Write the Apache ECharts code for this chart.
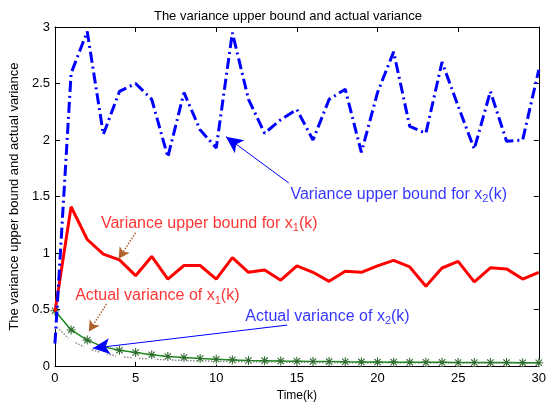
<!DOCTYPE html>
<html>
<head>
<meta charset="utf-8">
<script src="https://cdn.jsdelivr.net/npm/echarts@6/dist/echarts.min.js"></script>
<style>
  html, body { margin: 0; padding: 0; background: #fff; }
  #chart { width: 549px; height: 407px; }
</style>
</head>
<body>
<div id="chart"></div>
<script>
// time steps k
var timeSteps = [0,1,2,3,4,5,6,7,8,9,10,11,12,13,14,15,16,17,18,19,20,21,22,23,24,25,26,27,28,29,30];
// variance upper bound for x2(k)
var upperX2 = [0.2, 2.59, 2.96, 2.05, 2.43, 2.5, 2.36, 1.85, 2.42, 2.09, 1.93, 2.95, 2.36, 2.06, 2.18, 2.27,
  2.0, 2.36, 2.45, 1.89, 2.42, 2.78, 2.12, 2.06, 2.69, 2.3, 1.92, 2.43, 1.99, 2.0, 2.62];
// variance upper bound for x1(k)
var upperX1 = [0.48, 1.41, 1.12, 0.99, 0.94, 0.80, 0.97, 0.77, 0.89, 0.89, 0.77, 0.96, 0.83, 0.85, 0.76, 0.886,
  0.83, 0.75, 0.84, 0.83, 0.886, 0.935, 0.877, 0.706, 0.868, 0.926, 0.745, 0.87, 0.86, 0.77, 0.83];
// actual variance of x2(k)
var actualX2 = [0.49, 0.32, 0.23, 0.17, 0.14, 0.12, 0.10, 0.085, 0.075, 0.067, 0.06, 0.055, 0.05, 0.048, 0.045, 0.043,
  0.041, 0.04, 0.038, 0.037, 0.036, 0.035, 0.034, 0.033, 0.033, 0.032, 0.032, 0.031, 0.031, 0.03, 0.03];
// actual variance of x1(k)
var actualX1 = [0.36, 0.226, 0.158, 0.114, 0.085, 0.07, 0.062, 0.055, 0.05, 0.046, 0.043, 0.04, 0.038, 0.036, 0.035, 0.034,
  0.033, 0.032, 0.031, 0.03, 0.03, 0.029, 0.029, 0.028, 0.028, 0.028, 0.027, 0.027, 0.027, 0.027, 0.027];

// annotation texts (anchor in data coords: [k, value])
var noteTexts = [
  {pos: [14.6, 1.52], head: 'Variance upper bound for x', sub: '2', tail: '(k)', color: '#0000ff'},
  {pos: [2.85, 1.26], head: 'Variance upper bound for x', sub: '1', tail: '(k)', color: '#ff0000'},
  {pos: [1.25, 0.62], head: 'Actual variance of x', sub: '1', tail: '(k)', color: '#ff0000'},
  {pos: [11.8, 0.44], head: 'Actual variance of x', sub: '2', tail: '(k)', color: '#0000ff'}
];
// annotation arrows: from, to
var noteArrows = [
  {from: [14.5, 1.62], to: [10.6, 2.03], color: '#0000ff', type: 'solid', size: [12, 17]},
  {from: [5.0, 1.18], to: [3.95, 0.95], color: '#b0602a', type: 'dotted', size: [9, 11]},
  {from: [3.2, 0.55], to: [2.1, 0.305], color: '#b0602a', type: 'dotted', size: [9, 11]},
  {from: [14.4, 0.363], to: [2.35, 0.158], color: '#0000ff', type: 'solid', size: [12, 17]}
];

function pairs(vals) {
  var res = [];
  for (var i = 0; i < vals.length; i++) res.push([timeSteps[i], vals[i]]);
  return res;
}

var asterisk = 'path://M-0.12,-1L0.12,-1L0.12,1L-0.12,1Z M-1,-0.12L1,-0.12L1,0.12L-1,0.12Z ' +
  'M-0.79,-0.62L-0.62,-0.79L0.79,0.62L0.62,0.79Z M0.62,-0.79L0.79,-0.62L-0.62,0.79L-0.79,0.62Z';

var font = 'Liberation Sans, Arial, sans-serif';

function axisX(pos, labels) {
  return {
    type: 'value', position: pos, min: 0, max: 30, interval: 5,
    axisLine: {show: true, onZero: false, lineStyle: {color: '#000', width: 1}},
    axisTick: {show: true, inside: true, length: 5, lineStyle: {color: '#000'}},
    axisLabel: {show: labels, color: '#000', fontSize: 13, fontFamily: font, margin: 6},
    splitLine: {show: false}
  };
}
function axisY(pos, labels) {
  return {
    type: 'value', position: pos, min: 0, max: 3, interval: 0.5,
    axisLine: {show: true, onZero: false, lineStyle: {color: '#000', width: 1}},
    axisTick: {show: true, inside: true, length: 5, lineStyle: {color: '#000'}},
    axisLabel: {show: labels, color: '#000', fontSize: 13, fontFamily: font, margin: 5},
    splitLine: {show: false}
  };
}

var xMain = axisX('bottom', true);
xMain.name = 'Time(k)';
xMain.nameLocation = 'middle';
xMain.nameGap = 22;
xMain.nameTextStyle = {color: '#000', fontSize: 12, fontFamily: font};
var yMain = axisY('left', true);
yMain.name = 'The variance upper bound and actual variance';
yMain.nameLocation = 'middle';
yMain.nameGap = 31;
yMain.nameTextStyle = {color: '#000', fontSize: 13, fontFamily: font};

var noteData = noteTexts.map(function (n) {
  return {
    value: n.pos,
    label: {
      show: true, position: [0, 0], align: 'left', verticalAlign: 'middle',
      formatter: '{n|' + n.head + '}{s|' + n.sub + '}{n|' + n.tail + '}',
      rich: {
        n: {fontSize: 16, fontFamily: font, color: n.color},
        s: {fontSize: 11, fontFamily: font, color: n.color, padding: [9, 0, 0, 0]}
      }
    }
  };
});

var arrowData = noteArrows.map(function (a) {
  return [
    {coord: a.from, symbol: 'none', lineStyle: {color: a.color, type: a.type, width: a.type === 'dotted' ? 1.5 : 1}},
    {coord: a.to, symbol: 'arrow', symbolSize: a.size, itemStyle: {color: a.color}}
  ];
});

var option = {
  animation: false,
  backgroundColor: '#fff',
  title: {
    text: 'The variance upper bound and actual variance',
    left: 283, top: 5, textAlign: 'center',
    textStyle: {color: '#000', fontSize: 13, fontWeight: 'normal', fontFamily: font}
  },
  grid: {left: 49, right: 5, top: 27, bottom: 39},
  xAxis: [xMain, axisX('top', false)],
  yAxis: [yMain, axisY('right', false)],
  series: [
    {
      name: 'actual x1', type: 'line', data: pairs(actualX1), z: 2,
      symbol: 'emptyCircle', symbolSize: 5, showAllSymbol: true,
      lineStyle: {color: '#8a8a8a', width: 1.5, type: 'dotted'},
      itemStyle: {color: '#fff', borderColor: '#555', borderWidth: 1.5}
    },
    {
      name: 'actual x2', type: 'line', data: pairs(actualX2), z: 3,
      symbol: asterisk, symbolSize: 9, showAllSymbol: true,
      lineStyle: {color: '#1e8c1e', width: 1.5},
      itemStyle: {color: '#2f6a2f'}
    },
    {
      name: 'upper x1', type: 'line', data: pairs(upperX1), z: 4, symbol: 'none',
      lineStyle: {color: '#ff0000', width: 3}
    },
    {
      name: 'upper x2', type: 'line', data: pairs(upperX2), z: 5, symbol: 'none',
      lineStyle: {color: '#0000ff', width: 3, type: [11, 4, 2, 4]}
    },
    {
      name: 'notes', type: 'scatter', data: noteData, symbolSize: 0, z: 6, silent: true,
      markLine: {silent: true, symbol: ['none', 'arrow'], label: {show: false}, data: arrowData}
    }
  ]
};

var chart = echarts.init(document.getElementById('chart'));
chart.setOption(option);
</script>
</body>
</html>
